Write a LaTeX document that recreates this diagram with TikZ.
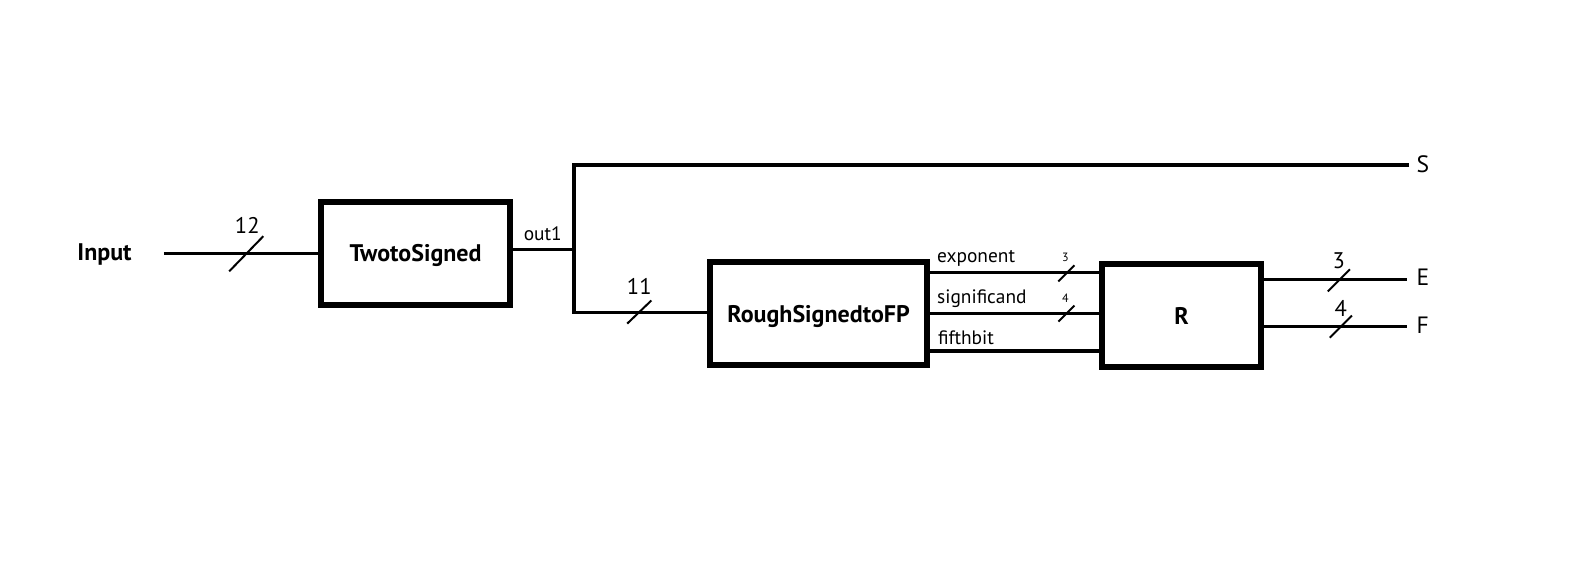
\documentclass[tikz,border=0pt]{standalone}
\usepackage{fontspec}
\setmainfont{PT Sans}
\begin{document}
\begin{tikzpicture}[x=0.5025pt,y=-0.5025pt,
  box/.style={draw,line width=2.9pt,inner sep=0pt,outer sep=0pt,minimum height=51.5pt,text depth=0pt,font=\bfseries\fontsize{12}{13}\selectfont},
  wire/.style={line width=1.75pt},
  bus/.style={line width=1pt},
  lbl/.style={inner sep=0pt,font=\fontsize{9.7}{11}\selectfont},
  num/.style={inner sep=0pt,font=\fontsize{11.3}{13}\selectfont},
  tiny/.style={inner sep=0pt,font=\fontsize{6}{7}\selectfont},
  port/.style={inner sep=0pt,font=\fontsize{11.8}{13}\selectfont}]
\useasboundingbox (0,0) rectangle (1568,581);
% boxes
\node[box,minimum width=94.3pt] (ts) at (413.5,252) {TwotoSigned};
\node[box,minimum width=108.3pt] (rs) at (814.5,312) {RoughSignedtoFP};
\node[box,minimum width=79.2pt] (r) at (1175.5,314) {R};
% labels
\node[inner sep=0pt,text depth=0pt,font=\bfseries\fontsize{12}{13}\selectfont] (in) at (104,251) {Input};
\coordinate (inw) at (163,252);
\coordinate (j1) at (571,248);
\coordinate (jtop) at (571,164);
\coordinate (jbot) at (571,311);
\coordinate (send) at (1402,164);
\node[port,anchor=west] (S) at (1409,163) {S};
\coordinate (ey) at (1000,271);
\coordinate (sy) at (1000,312);
\coordinate (fy) at (1000,349);
\coordinate (eend) at (1400,278);
\coordinate (fend) at (1400,325);
\node[port,anchor=west] (E) at (1409,276) {E};
\node[port,anchor=west] (F) at (1409,324) {F};
% wires
\draw[wire] (inw) -- (ts.west |- inw);
\draw[wire] (ts.east |- j1) -- (j1);
\draw[wire] (send) -- (jtop) -- (jbot) -- (rs.west |- jbot);
\draw[wire] (rs.east |- ey) -- (r.west |- ey);
\draw[wire] (rs.east |- sy) -- (r.west |- sy);
\draw[wire] (rs.east |- fy) -- (r.west |- fy);
\draw[wire] (r.east |- eend) -- (eend);
\draw[wire] (r.east |- fend) -- (fend);
% wire labels
\node[lbl] (o1) at (540,233) {out1};
\node[lbl,anchor=west] (lexp) at (932,257) {exponent};
\node[lbl,anchor=west] (lsig) at (932,297) {significand};
\node[lbl,anchor=west] (lfif) at (933,336) {fifthbit};
% bus slashes
\draw[bus] (228,270) -- (262,235);
\node[num] (n12) at (246,224) {12};
\draw[bus] (624,322) -- (648,299);
\node[num] (n11) at (636,285) {11};
\draw[bus] (1053,280) -- (1069,264);
\node[tiny] (n3a) at (1060,256) {3};
\draw[bus] (1053,320) -- (1069,304);
\node[tiny] (n4a) at (1060,297) {4};
\draw[bus] (1321,290) -- (1343,268);
\node[num] (n3b) at (1332,259) {3};
\draw[bus] (1323,336) -- (1345,314);
\node[num] (n4b) at (1334,307) {4};
\end{tikzpicture}
\end{document}
